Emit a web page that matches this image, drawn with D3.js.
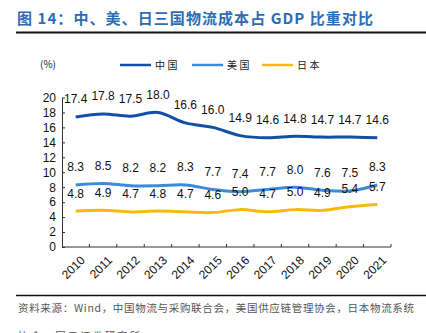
<!DOCTYPE html>
<html>
<head>
<meta charset="utf-8">
<script src="https://cdn.jsdelivr.net/npm/d3@7"></script>
<style>
  body { margin: 0; background: #fff; }
  svg { display: block; font-family: "Liberation Sans", Arial, sans-serif; }
  .cjk { font-family: "Noto Sans CJK SC", sans-serif; }
</style>
</head>
<body>
<div id="chart"></div>
<script>
var years = ["2010","2011","2012","2013","2014","2015","2016","2017","2018","2019","2020","2021"];
var china = [17.4, 17.8, 17.5, 18.0, 16.6, 16.0, 14.9, 14.6, 14.8, 14.7, 14.7, 14.6];
var usa   = [8.3, 8.5, 8.2, 8.2, 8.3, 7.7, 7.4, 7.7, 8.0, 7.6, 7.5, 8.3];
var japan = [4.8, 4.9, 4.7, 4.8, 4.7, 4.6, 5.0, 4.7, 5.0, 4.9, 5.4, 5.7];
var seriesNames = ["中国", "美国", "日本"];
var yTicks = [0, 2, 4, 6, 8, 10, 12, 14, 16, 18, 20];

var series = [
  {name: seriesNames[0], values: china, color: "#1150a6"},
  {name: seriesNames[1], values: usa, color: "#3d8bd8"},
  {name: seriesNames[2], values: japan, color: "#f8b80c"}
];

var width = 426, height = 333,
    margin = {top: 97.5, right: 35, bottom: 86, left: 62};

var svg = d3.select("#chart").append("svg")
  .attr("width", width)
  .attr("height", height);

// title + rule
svg.append("text")
  .attr("class", "cjk")
  .attr("x", 17)
  .attr("y", 24)
  .attr("fill", "#2c6cb4")
  .style("font-size", "15px")
  .style("font-weight", "bold")
  .attr("textLength", 356)
  .text("图 14：中、美、日三国物流成本占 GDP 比重对比");

svg.append("line")
  .attr("x1", 16).attr("x2", width)
  .attr("y1", 32.5).attr("y2", 32.5)
  .attr("stroke", "#111").attr("stroke-width", 1.8);

var x = d3.scaleBand().domain(years).range([margin.left, width - margin.right]);
var y = d3.scaleLinear().domain([0, 20]).range([height - margin.bottom, margin.top]);

// y axis, ticks pointing inward
var yAxis = svg.append("g")
  .attr("transform", `translate(${margin.left},0)`)
  .call(d3.axisRight(y).tickValues(yTicks).tickSize(3).tickSizeOuter(0).tickFormat(d3.format("d")));
yAxis.select(".domain").attr("stroke", "#333");
yAxis.selectAll(".tick line").attr("stroke", "#333");
yAxis.selectAll(".tick text")
  .attr("x", -6)
  .attr("text-anchor", "end")
  .attr("fill", "#111")
  .style("font-size", "12px");

// x axis with boundary ticks pointing up
var x0 = y(0);
var xg = svg.append("g");
xg.append("line")
  .attr("x1", margin.left).attr("x2", width - margin.right)
  .attr("y1", x0).attr("y2", x0)
  .attr("stroke", "#333");
var bounds = years.map(d => x(d)).concat([x(years[years.length - 1]) + x.bandwidth()]);
xg.selectAll(".xt").data(bounds.slice(1)).enter().append("line")
  .attr("x1", d => d).attr("x2", d => d)
  .attr("y1", x0).attr("y2", x0 - 3)
  .attr("stroke", "#333");
xg.selectAll(".xl").data(years).enter().append("text")
  .attr("transform", d => `translate(${x(d) + x.bandwidth() / 2 + 4},${x0 + 8}) rotate(-45)`)
  .attr("text-anchor", "end")
  .attr("dy", "0.7em")
  .attr("fill", "#111")
  .style("font-size", "12px")
  .text(d => d);

var cx = d => x(d) + x.bandwidth() / 2;

var line = d3.line()
  .x((d, i) => cx(years[i]))
  .y(d => y(d))
  .curve(d3.curveCatmullRom.alpha(0.5));

series.forEach(s => {
  svg.append("path")
    .datum(s.values)
    .attr("fill", "none")
    .attr("stroke", s.color)
    .attr("stroke-width", 3)
    .attr("d", line);

  svg.selectAll(null).data(s.values).enter().append("text")
    .attr("x", (d, i) => cx(years[i]))
    .attr("y", d => y(d) - 13.5)
    .attr("text-anchor", "middle")
    .attr("fill", "#111")
    .style("font-size", "12px")
    .text(d => d.toFixed(1));
});

// unit + legend
svg.append("text")
  .attr("class", "cjk")
  .attr("x", 40).attr("y", 68)
  .attr("fill", "#222")
  .style("font-size", "10px")
  .text("(%)");

var legendX = [120, 192, 262];
series.forEach((s, i) => {
  var g = svg.append("g").attr("transform", `translate(${legendX[i]},65)`);
  g.append("line")
    .attr("x1", 0).attr("x2", 31)
    .attr("stroke", s.color).attr("stroke-width", 2.5);
  g.append("text")
    .attr("class", "cjk")
    .attr("x", 35).attr("y", 3.5)
    .attr("fill", "#222")
    .style("font-size", "10px")
    .style("letter-spacing", "2.5px")
    .text(s.name);
});

// source note
svg.append("line")
  .attr("x1", 16).attr("x2", width)
  .attr("y1", 295.5).attr("y2", 295.5)
  .attr("stroke", "#111").attr("stroke-width", 1.5);

svg.append("text")
  .attr("class", "cjk")
  .attr("x", 18).attr("y", 312)
  .attr("fill", "#555")
  .style("font-size", "10.5px")
  .attr("textLength", 396)
  .text("资料来源：Wind，中国物流与采购联合会，美国供应链管理协会，日本物流系统");

svg.append("text")
  .attr("class", "cjk")
  .attr("x", 18).attr("y", 340)
  .attr("fill", "#555")
  .style("font-size", "10.5px")
  .attr("textLength", 122)
  .text("协会，国元证券研究所");
</script>
</body>
</html>
